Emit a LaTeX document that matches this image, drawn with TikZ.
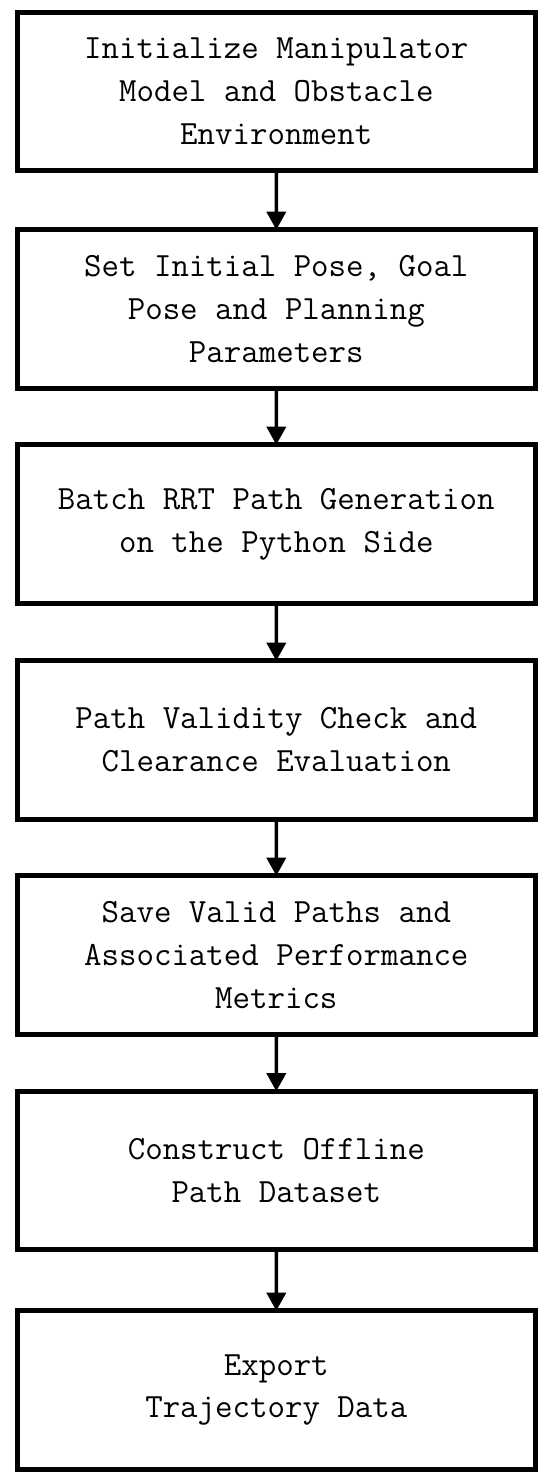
\documentclass[tikz,border=0pt]{standalone}
\usetikzlibrary{arrows.meta}
\begin{document}
\begin{tikzpicture}[scale=0.2]
\tikzstyle{every node}+=[inner sep=0pt]
\tikzstyle{stepbox}=[draw=black, line width=2.8pt, minimum width=10.37cm, minimum height=3.17cm, align=center, outer sep=0pt, font=\fontsize{19.3}{24.4}\selectfont\ttfamily]
\tikzstyle{flow}=[black, line width=2pt, -{Triangle[width=0.38cm,length=0.36cm]}]
\useasboundingbox (0,0) rectangle (55,-148.3);
\node [stepbox] (init) at (27.63,-9.13) {Initialize Manipulator\\Model and Obstacle\\Environment};
\node [stepbox] (setpose) at (27.63,-30.9) {Set Initial Pose, Goal\\Pose and Planning\\Parameters};
\node [stepbox] (rrtgen) at (27.63,-52.4) {Batch RRT Path Generation\\on the Python Side};
\node [stepbox] (check) at (27.63,-74.0) {Path Validity Check and\\Clearance Evaluation};
\node [stepbox] (save) at (27.63,-95.5) {Save Valid Paths and\\Associated Performance\\Metrics};
\node [stepbox] (dataset) at (27.63,-117.05) {Construct Offline\\Path Dataset};
\node [stepbox] (export) at (27.63,-139.0) {Export\\Trajectory Data};
\draw [flow] (init) -- (setpose);
\draw [flow] (setpose) -- (rrtgen);
\draw [flow] (rrtgen) -- (check);
\draw [flow] (check) -- (save);
\draw [flow] (save) -- (dataset);
\draw [flow] (dataset) -- (export);
\end{tikzpicture}
\end{document}
